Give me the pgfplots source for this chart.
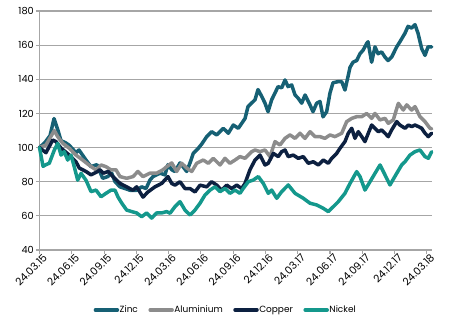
\documentclass[border=0pt]{standalone}
\usepackage{fontspec}
\setmainfont{Poppins}
\usepackage{pgfplots}
\usepackage{pgfplotstable}
\pgfplotsset{compat=1.18}
\definecolor{zinc}{RGB}{22,96,116}
\definecolor{alu}{RGB}{140,140,140}
\definecolor{copper}{RGB}{12,32,64}
\definecolor{nickel}{RGB}{20,152,140}
\definecolor{gridc}{RGB}{166,166,166}

\pgfplotstableread{
m v
0 100
0.51 103
0.98 107
1.35 117
1.72 110
2.00 104
2.37 103
2.74 101.5
3.39 97
3.67 98.6
4.32 92.7
4.79 88.8
5.34 90
5.87 82
6.34 83
6.71 85
7.02 80
7.48 77
7.95 76
8.41 75
9.03 75
9.50 77
9.90 76
10.27 81
10.55 83
11.20 85
11.66 84
11.94 90
12.29 87
12.59 86
13.06 91
13.68 86
13.99 91
14.29 96.6
14.76 99.6
15.07 102
15.54 106.4
16.00 109.3
16.47 107.4
17.08 111.3
17.55 108.4
18.01 113.2
18.48 111.3
19.10 117
19.38 124
20.03 128
20.31 134
20.65 130
20.96 126
21.24 121
21.58 128
21.89 132
22.17 135.7
22.51 135
22.82 139.6
23.10 135.7
23.44 136.7
23.75 130.8
24.03 129
24.37 126
24.68 130.8
25.14 125
25.42 121
25.76 126
26.07 127
26.35 118
26.69 121
27.00 132
27.28 138
27.74 138.6
28.09 138.6
28.39 133.7
28.67 141.5
28.86 147
29.14 150
29.48 151
29.79 155
30.07 157
30.41 161
30.53 162
30.87 150
31.18 159
31.46 155
31.80 156
32.11 153
32.39 151
32.73 153
33.20 159
33.50 162
33.97 167
34.25 171
34.59 170
34.90 172
35.18 167
35.52 158
35.83 154
36.11 159
36.45 159
}\zinctab

\pgfplotstableread{
m v
0 100
0.60 101.5
1.38 110
1.69 106.4
2.16 102.5
2.77 99.6
3.39 95.6
4.01 92.7
4.60 89.8
5.25 86.9
5.72 89.8
6.18 88.8
6.65 86.9
7.11 87
7.48 83
8.10 82
8.69 83
9.15 86
9.62 83
10.27 85
10.89 85
11.48 87
11.82 88.8
12.29 91
12.75 86
13.22 90.8
13.68 88
14.15 86
14.61 90.8
15.22 92.7
15.69 90.8
16.15 93.7
16.78 89.8
17.24 93.7
17.70 90.8
18.17 92.7
18.63 94.7
19.10 93.7
19.72 97.6
20.03 98.6
20.49 97.6
20.96 98.6
21.42 94.7
21.89 103.5
22.35 101.5
22.82 105.4
23.28 107.4
23.75 105.4
24.21 108.4
24.68 105.4
25.14 109.3
25.61 106.4
26.07 106.4
26.53 105.4
27.00 107.4
27.46 106.4
28.09 108.4
28.55 115.2
29.02 117.1
29.48 118.1
29.95 118.1
30.41 120
30.87 117.1
31.18 120
31.65 116.2
32.11 117.1
32.42 114.2
32.88 116.2
33.35 125.9
33.81 122
34.13 125
34.59 122
34.90 124
35.36 118.1
35.83 115.2
36.29 111.3
36.45 111
}\alutab

\pgfplotstableread{
m v
0 100
0.60 97
1.23 104.4
1.53 103.5
2.00 99.7
2.77 95.6
3.39 91.7
3.70 88
4.32 86
4.79 84
5.41 86
5.62 87
5.93 85
6.39 86
6.83 83
7.48 79
8.10 77
8.69 75
9.03 77
9.62 71
10.08 74
10.73 77
11.36 79
11.94 83
12.29 79
12.59 78
13.06 80
13.52 76
13.99 76
14.45 74
14.92 78
15.54 77
16.00 80
16.47 78
16.93 75
17.40 78
17.86 76
18.33 78
18.79 76
19.10 79
19.56 87
20.03 92.7
20.49 95.6
20.96 89.8
21.26 90.8
21.73 96.6
22.19 94.7
22.51 97.6
22.82 98.6
23.12 94.7
23.59 95.6
24.05 93.7
24.52 94.7
24.98 90.8
25.45 91.7
25.91 89.8
26.38 92.7
26.84 90.8
27.16 93.7
27.62 96.6
27.93 99.6
28.39 103.5
28.70 108.4
29.02 111.3
29.32 105.4
29.63 109.3
29.95 106.4
30.25 103.5
30.56 108.4
30.87 113.2
31.18 111.3
31.49 109.3
31.80 110.3
32.11 108.4
32.42 106.4
32.73 110.3
33.20 115.2
33.50 113.2
33.97 111.3
34.28 113.2
34.59 112.3
34.90 113.2
35.21 112.3
35.52 111.3
35.83 108.4
36.14 106.4
36.45 108.4
}\coppertab

\pgfplotstableread{
m v
0 100
0.33 89
0.60 90
0.91 90.8
1.38 98.6
1.69 102.5
2.00 95.6
2.30 97.6
2.62 92.7
2.93 95.6
3.23 88.8
3.55 80.9
3.86 84.9
4.32 80.9
4.79 74.2
5.25 75.1
5.72 71.2
6.18 73.2
6.65 75.1
7.02 75
7.30 71
7.64 67.5
8.10 63.4
8.57 62.5
9.03 61.7
9.50 59.5
9.96 61.7
10.43 58.7
10.89 61.7
11.36 61.7
11.82 62.5
12.13 61.5
12.59 65.4
13.06 68.3
13.52 63.4
13.99 60.5
14.45 63.4
14.92 67.4
15.38 72.2
15.85 75.1
16.31 77
16.78 74.2
17.24 76.1
17.70 73.2
18.17 75.1
18.63 73.2
18.94 76.1
19.41 80
19.87 81
20.34 83
20.80 79
21.26 73.2
21.58 75.1
22.05 70.3
22.51 74.2
23.12 78.1
23.75 73.2
24.52 70.3
25.14 67.4
25.76 66.4
26.38 64.4
26.84 62.5
27.31 65.4
27.77 68.3
28.39 73.2
28.86 79
29.48 85.9
29.79 83
30.25 75.1
30.72 80
31.18 84.9
31.65 89.8
32.11 84
32.57 78.1
33.20 84.9
33.66 89.8
33.97 91.7
34.43 95.6
34.90 97.6
35.36 98.6
35.83 94.7
36.14 93.7
36.45 97.6
}\nickeltab

\begin{document}
\begin{tikzpicture}
\useasboundingbox (-39.5bp,-75bp) rectangle (410.5bp,250bp);
\begin{axis}[
  at={(0,0)}, anchor=south west,
  scale only axis,
  width=392.5bp, height=239bp,
  xmin=0, xmax=36.48,
  ymin=40, ymax=180,
  ytick={40,60,...,180},
  xtick={0,3,...,36},
  xticklabels={24.03.15,24.06.15,24.09.15,24.12.15,24.03.16,24.06.16,24.09.16,24.12.16,24.03.17,24.06.17,24.09.17,24.12.17,24.03.18},
  x tick label style={rotate=45, anchor=north east, inner sep=0.5pt, xshift=3bp, yshift=-1bp, font=\fontsize{10.5}{11}\selectfont},
  y tick label style={inner sep=1pt, xshift=-1bp, font=\fontsize{9.8}{11}\selectfont},
  /pgf/number format/assume math mode=true,
  axis x line*=bottom, axis y line*=left,
  axis line style={gridc, line width=1.1bp, -},
  tick style={gridc, line width=1.1bp},
  tick align=outside,
  major tick length=3.5bp,
  ymajorgrids,
  grid style={gridc, line width=1.1bp},
  legend columns=4,
  legend style={at={(0.4726,-0.251)}, anchor=center, draw=none, fill=none,
    font=\fontsize{9}{10}\selectfont,
    nodes={inner xsep=0.5pt, inner ysep=1pt},
    /tikz/every even column/.append style={column sep=10bp}},
  legend image code/.code={\draw[#1, line width=3.5bp] (0bp,0bp) -- (22bp,0bp);},
  every axis plot/.append style={line width=3.5bp, line join=round, line cap=round},
  clip=false,
]
\addplot[zinc] table[x=m,y=v] {\zinctab};
\addlegendentry{Zinc}
\addplot[alu] table[x=m,y=v] {\alutab};
\addlegendentry{Aluminium}
\addplot[copper] table[x=m,y=v] {\coppertab};
\addlegendentry{Copper}
\addplot[nickel] table[x=m,y=v] {\nickeltab};
\addlegendentry{Nickel}
\end{axis}
\end{tikzpicture}
\end{document}
